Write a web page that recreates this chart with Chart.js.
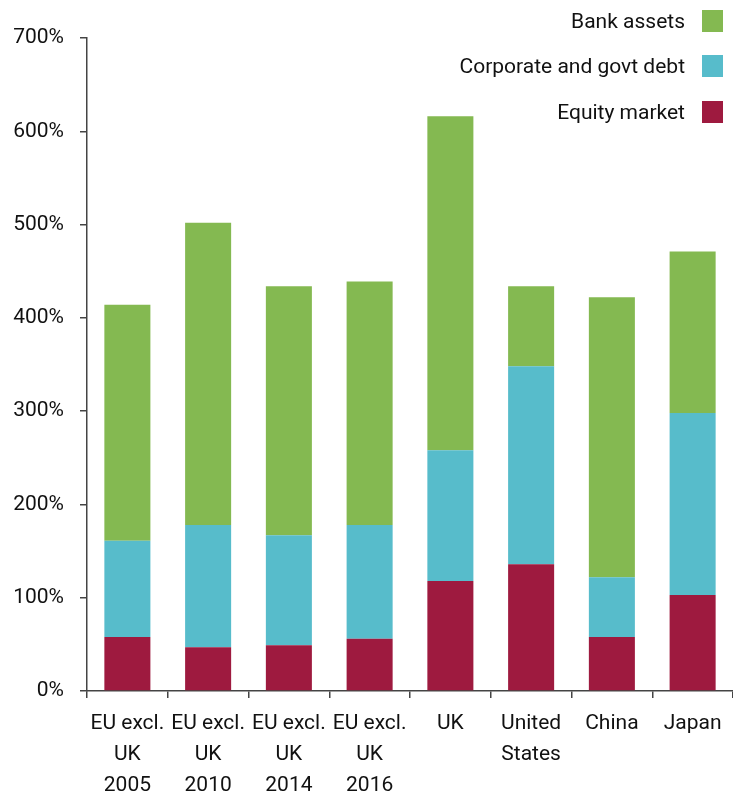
<!DOCTYPE html>
<html>
<head>
<meta charset="utf-8">
<script src="https://cdn.jsdelivr.net/npm/chart.js@4/dist/chart.umd.min.js"></script>
<style>
    html, body { margin: 0; padding: 0; background: #fff; }
    #wrap { position: relative; width: 733px; height: 791px; }
    #legend { position: absolute; right: 10px; top: 9px; font-family: Roboto, "Liberation Sans", sans-serif; font-size: 21px; color: #111; }
    #legend div { display: flex; justify-content: flex-end; align-items: center; height: 23px; margin-bottom: 22.5px; }
    #legend span.box { display: inline-block; width: 21px; height: 22px; margin-left: 17px; }
</style>
</head>
<body>
<div id="wrap">
    <canvas id="ControlChart" width="733" height="791"></canvas>
    <div id="legend"></div>
</div>
<script>
var categorias = [
    ["EU excl.", "UK", "2005"],
    ["EU excl.", "UK", "2010"],
    ["EU excl.", "UK", "2014"],
    ["EU excl.", "UK", "2016"],
    "UK",
    ["United", "States"],
    "China",
    "Japan"
];
var equityMarket = [58, 47, 49, 56, 118, 136, 58, 103];
var corpGovtDebt = [103, 131, 118, 122, 140, 212, 64, 195];
var bankAssets = [253, 324, 267, 261, 358, 86, 300, 173];
var yTicks = [0, 100, 200, 300, 400, 500, 600, 700];

var colores = {
    bank: '#84b951',
    debt: '#57bccb',
    equity: '#9e1a3f'
};

var chartDashboard = {

    initialize: function () {
        chartDashboard.LoadLegend();
        chartDashboard.LoadChart();
    },

    LoadLegend: function () {
        var items = [
            { label: "Bank assets", color: colores.bank },
            { label: "Corporate and govt debt", color: colores.debt },
            { label: "Equity market", color: colores.equity }
        ];
        var html = '';
        for (var i = 0; i < items.length; i++) {
            html += '<div><span>' + items[i].label + '</span><span class="box" style="background:' + items[i].color + '"></span></div>';
        }
        document.getElementById("legend").innerHTML = html;
    },

    LoadChart: function () {
        var fuente = { family: 'Roboto, "Liberation Sans", sans-serif', size: 21, lineHeight: 1.48 };
        var ctx = document.getElementById("ControlChart").getContext('2d');
        var myChart = new Chart(ctx, {
            type: 'bar',
            data: {
                labels: categorias,
                datasets: [
                    { label: "Equity market", data: equityMarket, backgroundColor: colores.equity },
                    { label: "Corporate and govt debt", data: corpGovtDebt, backgroundColor: colores.debt },
                    { label: "Bank assets", data: bankAssets, backgroundColor: colores.bank }
                ]
            },
            options: {
                responsive: false,
                animation: false,
                barPercentage: 0.57,
                categoryPercentage: 1,
                layout: { padding: { top: 38, right: 0, bottom: 0, left: 0 } },
                plugins: {
                    legend: { display: false },
                    tooltip: { enabled: false }
                },
                scales: {
                    x: {
                        stacked: true,
                        border: { color: '#444', width: 1.5 },
                        grid: { drawOnChartArea: false, drawTicks: true, tickLength: 7, color: '#444', lineWidth: 1.5 },
                        ticks: { color: '#111', font: fuente, maxRotation: 0, autoSkip: false, padding: 10 },
                        afterFit: function (scale) { scale.height = 100; }
                    },
                    y: {
                        stacked: true,
                        min: 0,
                        max: 700,
                        afterBuildTicks: function (scale) {
                            scale.ticks = yTicks.map(function (v) { return { value: v }; });
                        },
                        border: { color: '#444', width: 1.5 },
                        grid: { drawOnChartArea: false, drawTicks: true, tickLength: 7, color: '#444', lineWidth: 1.5 },
                        ticks: {
                            color: '#111',
                            font: fuente,
                            padding: 16,
                            callback: function (v) { return v + '%'; }
                        },
                        afterFit: function (scale) { scale.width = 87; }
                    }
                }
            }
        });
    }
};

chartDashboard.initialize();
</script>
</body>
</html>
